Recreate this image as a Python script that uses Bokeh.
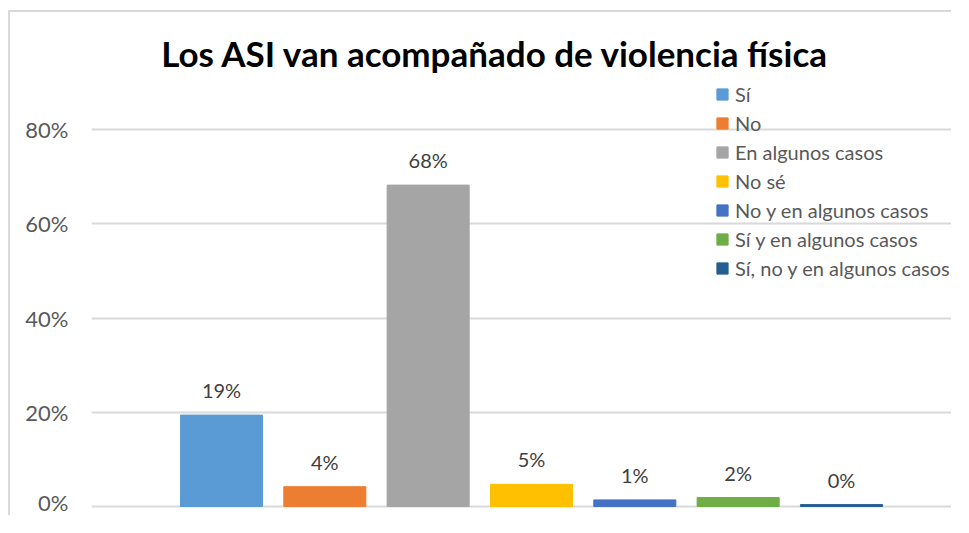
from bokeh.plotting import figure
from bokeh.models import (ColumnDataSource, Range1d, FixedTicker, PrintfTickFormatter,
                          LabelSet, Label, Legend, LegendItem)
from bokeh.core.properties import value
from bokeh.embed import file_html
from bokeh.resources import INLINE

# ---- data ----
categories = ["Sí", "No", "En algunos casos", "No sé", "No y en algunos casos",
              "Sí y en algunos casos", "Sí, no y en algunos casos"]
percentages = [19.4, 4.2, 68.2, 4.7, 1.4, 1.9, 0.4]
colors = ["#5B9BD5", "#ED7D31", "#A5A5A5", "#FFC000", "#4472C4", "#70AD47", "#255E91"]
y_ticks = [0, 20, 40, 60, 80]
title_text = "Los ASI van acompañado de violencia física"

FONT = "Lato"

src = ColumnDataSource(dict(
    x=list(range(len(categories))),
    y=percentages,
    cat=categories,
    color=colors,
    lab=[f"{int(v + 0.5)}%" for v in percentages],
))

p = figure(width=943, height=505, output_backend="svg", toolbar_location=None,
           x_range=Range1d(-1.258, 7.084), y_range=Range1d(-0.424, 104.83),
           min_border_left=81, min_border_right=0, min_border_top=0, min_border_bottom=9)
p.styles = {"border-top": "2px solid #d9d9d9", "border-left": "2px solid #d9d9d9",
            "margin-top": "10px", "margin-left": "8px"}
p.outline_line_color = None
p.background_fill_color = "white"
p.border_fill_color = "white"

r = p.vbar(x="x", top="y", width=0.794, bottom=0, color="color", source=src)

# axes
p.xaxis.visible = False
p.xgrid.visible = False
yax = p.yaxis[0]
yax.ticker = FixedTicker(ticks=y_ticks)
yax.formatter = PrintfTickFormatter(format="%d%%")
yax.axis_line_color = None
yax.major_tick_line_color = None
yax.minor_tick_line_color = None
yax.major_tick_out = 0
yax.major_label_standoff = 23
yax.major_label_text_font = FONT
yax.major_label_text_font_size = "22px"
yax.major_label_text_color = "#595959"
p.ygrid.ticker = FixedTicker(ticks=y_ticks)
p.ygrid.grid_line_color = "#d9d9d9"
p.ygrid.grid_line_width = 2

# value labels
labels = LabelSet(x="x", y="y", text="lab", source=src, y_offset=25,
                  text_align="center", text_baseline="middle",
                  text_font=value(FONT), text_font_size="20px", text_color="#404040")
p.add_layout(labels)

# title
t = Label(x=2.652, y=96.34, text=title_text, text_align="center", text_baseline="middle",
          text_font=FONT, text_font_style="bold", text_font_size="35px", text_color="black")
p.add_layout(t)

# legend
items = [LegendItem(label=c, renderers=[r], index=i) for i, c in enumerate(categories)]
legend = Legend(items=items, location=(624, 226), orientation="vertical",
                glyph_width=14, glyph_height=14, label_height=29, spacing=0,
                label_standoff=6, padding=0, margin=0,
                border_line_color=None, background_fill_alpha=0,
                label_text_font=FONT, label_text_font_size="20px",
                label_text_color="#595959")
p.add_layout(legend, "center")

open("out.html", "w").write(file_html(p, INLINE))
